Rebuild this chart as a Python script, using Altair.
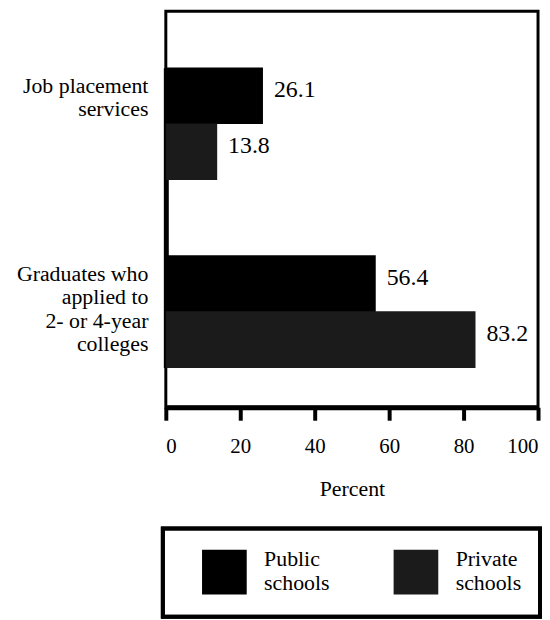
import altair as alt
import pandas as pd

categories = ["Job placement services", "Graduates who applied to 2- or 4-year colleges"]
category_lines = [["Job placement", "services"],
                  ["Graduates who", "applied to", "2- or 4-year", "colleges"]]
series = ["Public schools", "Private schools"]
public_values = [26.1, 56.4]
private_values = [13.8, 83.2]
tick_values = [0, 20, 40, 60, 80, 100]
series_colors = ["#000000", "#1b1b1b"]

rows = []
for c, pv, rv in zip(categories, public_values, private_values):
    rows.append({"category": c, "series": series[0], "value": pv})
    rows.append({"category": c, "series": series[1], "value": rv})
df = pd.DataFrame(rows)
leg_df = pd.DataFrame({"series": series})

def js_list(lines):
    return "[" + ",".join("'" + s + "'" for s in lines) + "]"

label_expr = (f"datum.value == '{categories[0]}' ? {js_list(category_lines[0])} : "
              f"{js_list(category_lines[1])}")

FONT = "Liberation Serif"
W = 375
H = 399
LEG_TOP = 521
LEG_BOTTOM = 610
LEG_MID = 565

y_enc = alt.Y("category:N", sort=categories,
              scale=alt.Scale(range=[57, 359], paddingInner=0.404, paddingOuter=0),
              axis=alt.Axis(title=None, ticks=False, labelExpr=label_expr,
                            labelFont=FONT, labelFontSize=22, labelLineHeight=23.5,
                            labelPadding=18, labelAlign="right", labelBaseline="middle",
                            labelOffset=-38,
                            labelColor="black", labelLimit=0,
                            domainColor="black", domainWidth=5))
yoff = alt.YOffset("series:N", sort=series,
                   scale=alt.Scale(paddingInner=0, paddingOuter=0))
x_enc = alt.X("value:Q",
              scale=alt.Scale(domain=[0, 100], nice=False),
              axis=alt.Axis(values=tick_values, title="Percent", grid=False,
                            tickSize=13, tickWidth=4, tickColor="black",
                            domainColor="black", domainWidth=5,
                            labelFont=FONT, labelFontSize=21, labelColor="black",
                            labelPadding=16,
                            titleFont=FONT, titleFontSize=22, titleFontWeight="normal",
                            titleColor="black", titlePadding=22))
color_enc = alt.Color("series:N", sort=series,
                      scale=alt.Scale(domain=series, range=series_colors), legend=None)

base = alt.Chart(df)
bars = base.mark_bar(size=57).encode(y=y_enc, yOffset=yoff, x=x_enc, color=color_enc)
labels = base.mark_text(align="left", baseline="middle", dx=11, dy=-6,
                        font=FONT, fontSize=24, color="black").encode(
    y=alt.Y("category:N", sort=categories), yOffset=yoff, x="value:Q",
    text=alt.Text("value:Q", format=".1f"),
)
main = alt.layer(bars, labels)

leg_x = alt.X("series:N", sort=series, axis=None,
              scale=alt.Scale(type="point", domain=series, range=[59, 252], padding=0))
leg_box = alt.Chart(leg_df).mark_rect(fill="white", fillOpacity=0, stroke="black",
                                      strokeWidth=4).encode(
    x=alt.value(-3), x2=alt.value(W + 2), y=alt.value(LEG_TOP), y2=alt.value(LEG_BOTTOM))
swatch = alt.Chart(leg_df).mark_square(size=45 * 45, opacity=1).encode(
    x=leg_x, y=alt.value(LEG_MID), color=color_enc)
leg_base = alt.Chart(leg_df).transform_calculate(
    line1="split(datum.series, ' ')[0]", line2="split(datum.series, ' ')[1]")
leg_text1 = leg_base.mark_text(align="left", baseline="middle", dx=40, dy=-13,
                               font=FONT, fontSize=22, color="black").encode(
    x=leg_x, y=alt.value(LEG_MID), text="line1:N")
leg_text2 = leg_base.mark_text(align="left", baseline="middle", dx=40, dy=11,
                               font=FONT, fontSize=22, color="black").encode(
    x=leg_x, y=alt.value(LEG_MID), text="line2:N")
legend_layer = alt.layer(leg_box, swatch, leg_text1, leg_text2)

chart = alt.layer(main, legend_layer).resolve_scale(x="independent").properties(
    width=W, height=H,
    padding={"left": 8, "top": 1, "right": 0, "bottom": 0},
).configure_view(stroke="black", strokeWidth=3).configure_text(font=FONT)

chart.save("out.html", embed_options={"renderer": "svg", "actions": False})
